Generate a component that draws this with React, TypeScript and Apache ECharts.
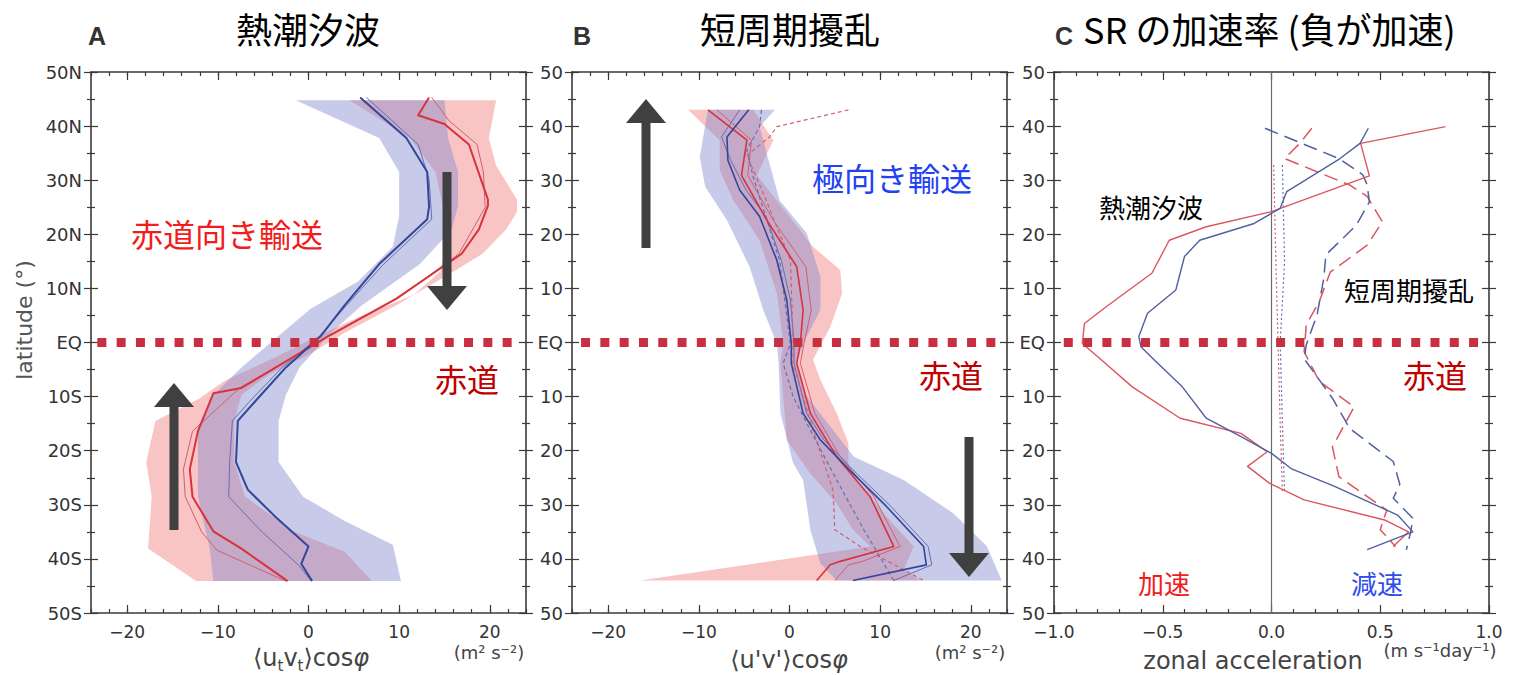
import React, { useEffect, useRef } from 'react';
import * as echarts from 'echarts';

// ---------- Panel A: 熱潮汐波 (thermal tides) ----------
const A_RED_LAT = [45.3, 42.0, 40.4, 36.6, 26.4, 25.3, 20.9, 16.4, 8.1, 1.1, -8.4, -9.4, -16.4, -23.4, -28.5, -34.9, -38.1, -44.1];
const A_RED = [13.3, 12.1, 15.0, 17.7, 19.8, 19.8, 18.8, 16.9, 9.7, 2.1, -7.4, -10.5, -12.2, -13.1, -12.8, -10.5, -7.4, -2.3];
const A_RED_THIN_LAT = [45.3, 41.0, 36.6, 31.5, 25.0, 16.4, 8.1, 1.1, -8.4, -16.4, -23.4, -28.5, -35.0, -38.4, -44.1];
const A_RED_THIN = [13.6, 15.5, 18.6, 19.3, 19.5, 16.6, 9.8, 2.2, -7.6, -12.8, -13.8, -13.6, -11.8, -10.1, -2.5];
const A_BLUE_LAT = [45.3, 37.8, 31.5, 25.1, 22.8, 14.5, 6.9, 1.1, -4.6, -10.9, -14.5, -22.1, -27.2, -32.3, -37.7, -40.9, -44.1];
const A_BLUE = [5.7, 10.8, 13.1, 13.3, 13.1, 7.8, 4.0, 1.3, -2.5, -5.9, -7.8, -8.0, -6.7, -3.6, 0.0, -0.8, 0.4];
const A_BLUE_THIN_LAT = [45.3, 36.6, 30.2, 22.8, 14.5, 6.9, 1.1, -4.6, -10.9, -14.5, -22.1, -28.5, -34.9, -41.3, -44.1];
const A_BLUE_THIN = [6.4, 12.1, 13.3, 13.6, 8.3, 4.2, 1.2, -2.9, -6.5, -8.4, -8.7, -8.8, -5.2, -1.0, 0.3];

// bands (each edge listed from north to south)
const A_RBAND_R_LAT = [44.8, 37.8, 32.7, 26.4, 24.1, 20.9, 16.4, 13.2, 6.9, 1.8, -2.1, -5.9, -9.7, -14.5, -22.1, -28.5, -34.9, -38.7, -44.1];
const A_RBAND_R = [20.7, 19.9, 20.7, 23.0, 23.0, 21.8, 19.2, 16.1, 9.7, 4.0, 0.2, -4.4, -7.4, -8.2, -8.2, -7.0, -1.7, 4.0, 7.0];
const A_RBAND_L_LAT = [44.8, 44.2, 37.8, 31.5, 20.9, 13.2, 8.8, 5.0, 0.5, -2.7, -7.1, -10.3, -14.5, -22.1, -28.5, -38.1, -44.1];
const A_RBAND_L = [4.5, 5.1, 11.2, 14.0, 15.4, 14.6, 11.6, 5.9, 0.2, -3.6, -9.3, -12.0, -16.9, -17.9, -17.3, -17.7, -12.4];
const A_BBAND_L_LAT = [44.8, 37.8, 31.5, 25.1, 23.4, 17.7, 11.3, 6.2, 1.8, -4.6, -9.7, -15.8, -28.5, -38.1, -44.1];
const A_BBAND_L = [-1.4, 7.8, 10.0, 10.0, 10.0, 9.3, 5.5, 0.2, -2.9, -7.4, -10.5, -12.2, -12.2, -10.9, -10.5];
const A_BBAND_R_LAT = [44.8, 37.8, 31.5, 25.3, 20.9, 14.5, 6.9, 1.8, -4.6, -9.7, -14.5, -22.1, -28.5, -33.0, -37.4, -44.1];
const A_BBAND_R = [15.0, 15.4, 16.5, 16.5, 15.8, 12.3, 5.9, 2.5, -1.0, -2.5, -3.3, -3.3, -0.6, 4.0, 9.3, 10.2];

// ---------- Panel B: 短周期擾乱 (transient eddies) ----------
const B_BLUE_LAT = [43, 38, 33.7, 28.2, 23.3, 15.2, 7.8, -0.2, -3.85, -13.1, -18, -24.2, -30.3, -37.7, -41.1, -44];
const B_BLUE = [-4.5, -6.9, -6.8, -5.5, -3.3, -1.4, -0.3, 0.2, 0.2, 1.5, 3.4, 7.0, 10.7, 14.8, 15.1, 7.0];
const B_BLUE_THIN = [-5.5, -7.5, -6.5, -4.8, -2.6, -0.9, 0.1, 0.5, 0.5, 1.9, 3.8, 7.4, 11.2, 15.3, 15.7, 11.5];
const B_RED_LAT = [43, 37.4, 30.9, 22.6, 14, 6, -0.2, -3.85, -13.1, -21.1, -28.5, -37.7, -40.5, -41.1, -44];
const B_RED = [-9.0, -4.7, -5.3, -2.5, 0.8, 1.5, 1.2, 0.8, 2.3, 5.2, 8.9, 11.5, 5.5, 4.5, 3.0];
const B_RED_THIN = [-8.0, -4.2, -4.6, -1.8, 1.8, 2.4, 1.6, 1.2, 2.8, 5.6, 9.3, 12.2, 8.0, 6.5, 5.0];
const B_RED_DASH_LAT = [43, 39.9, 38, 34.6, 27.6, 15.2, -0.2, -3.85, -16.2, -27.3, -34.6, -37.7, -44];
const B_RED_DASH = [6.5, -1.4, -2.2, -4.7, -2.9, 0.1, 0.4, 0.4, 2.6, 4.8, 5.0, 7.8, 14.8];
const B_BLUE_DASH_LAT = [43, 39.9, 35.6, 30.6, 15.2, -0.2, -3.85, -10, -16.2, -25.4, -34.6, -37.7, -44];
const B_BLUE_DASH = [-3.1, -3.3, -4.7, -4.0, -1.1, 0.1, -0.7, 0.4, 2.3, 5.2, 8.2, 9.3, 11.5];

const B_RBAND_L_LAT = [43, 37.4, 31.9, 26.3, 18.9, 9.1, -0.2, -3.85, -18, -24.2, -29.7, -34.6, -37.7, -44];
const B_RBAND_L = [-11.2, -7.7, -7.7, -6.2, -3.3, -1.4, -0.7, -1.0, -0.3, 2.3, 5.2, 7.0, 8.9, -16.5];
const B_RBAND_R_LAT = [43, 37.4, 30.9, 23.9, 17.7, 13.4, 9.1, 2.9, -3.2, -6.9, -13.1, -18.6, -23.6, -28.5, -32.2, -37.7, -42, -44];
const B_RBAND_R = [-4.0, -1.8, -3.6, -0.3, 2.6, 5.6, 5.8, 4.5, 2.6, 3.4, 5.2, 6.5, 6.5, 8.9, 10.7, 13.7, 12.6, 14.4];
const B_BBAND_L_LAT = [43, 34.3, 28.8, 22.6, 14.0, 6.0, -0.2, -3.85, -13.1, -22.3, -25.4, -34.6, -40.8, -44];
const B_BBAND_L = [-9.0, -9.9, -9.3, -6.9, -4.4, -2.9, -1.4, -1.2, -1.0, 0.4, 1.5, 2.3, 3.4, 5.2];
const B_BBAND_R_LAT = [43, 39.9, 34.9, 26.3, 20.2, 12.2, 6.0, -0.2, -3.85, -10.0, -21.1, -25.4, -31.6, -37.7, -44];
const B_BBAND_R = [-1.6, -3.3, -2.5, -1.1, 1.9, 3.4, 3.4, 1.5, 0.8, 1.9, 7.1, 12.6, 18.1, 21.8, 23.4];

// ---------- Panel C: zonal acceleration ----------
const C_RED_LAT = [39.9, 36.8, 30.8, 24.2, 21.4, 18.9, 12.8, 6.6, 3.5, -0.2, -2.6, -8.2, -14.0, -16.8, -20.2, -22.9, -26.0, -29.1, -32.8, -35.0, -37.7];
const C_RED = [0.80, 0.41, 0.45, 0.0, -0.30, -0.47, -0.55, -0.76, -0.86, -0.87, -0.80, -0.64, -0.42, -0.14, -0.02, -0.11, -0.01, 0.15, 0.52, 0.63, 0.56];
const C_BLUE_LAT = [39.6, 36.8, 34.0, 27.9, 24.8, 22.0, 18.9, 15.9, 9.7, 5.4, 1.1, -0.8, -3.2, -8.2, -14.0, -17.4, -20.5, -23.3, -26.6, -31.9, -35.0, -38.3];
const C_BLUE = [0.445, 0.407, 0.315, 0.07, 0.04, -0.08, -0.33, -0.40, -0.44, -0.57, -0.61, -0.60, -0.54, -0.41, -0.30, -0.14, 0.0, 0.09, 0.29, 0.58, 0.65, 0.44];
const C_RED_DASH_LAT = [39.6, 36.8, 34.0, 29.1, 27.0, 22.3, 18.0, 13.0, 7.6, 3.3, -1.7, -7.2, -11.9, -19.3, -24.8, -31.0, -34.6, -37.7];
const C_RED_DASH = [0.185, 0.13, 0.06, 0.36, 0.44, 0.51, 0.44, 0.27, 0.22, 0.16, 0.15, 0.22, 0.38, 0.28, 0.31, 0.53, 0.50, 0.57];
const C_BLUE_DASH_LAT = [39.6, 34.0, 31.0, 29.1, 26.0, 21.7, 16.2, 11.8, 5.2, -0.4, -3.0, -10.3, -15.9, -22.0, -26.2, -28.8, -32.5, -35.0, -38.3];
const C_BLUE_DASH = [-0.03, 0.31, 0.42, 0.44, 0.45, 0.39, 0.25, 0.24, 0.21, 0.16, 0.15, 0.28, 0.36, 0.56, 0.59, 0.56, 0.65, 0.64, 0.62];
const C_DOT_LAT = [32.8, 15, 0, -15, -27.5];
const C_RED_DOT = [0.01, 0.02, 0.03, 0.04, 0.05];
const C_BLUE_DOT = [0.05, 0.06, 0.04, 0.05, 0.06];
const C_ZERO_X = [0, 0];
const C_ZERO_LAT = [50, -50];

// equator dotted lines
const EQ_LAT = [0, 0];
const EQ_X_A = [-23.3, 23.2];
const EQ_X_B = [-23.0, 23.4];
const EQ_X_C = [-0.955, 0.985];

// axis ticks
const LAT_TICKS = [-50, -40, -30, -20, -10, 0, 10, 20, 30, 40, 50];
const X_TICKS_AB = [-20, -10, 0, 10, 20];

const AX = '#3a3a3a';
const RED = '#d8333d';
const RED_THIN = '#d0606c';
const BLUE = '#34459a';
const BLUE_THIN = '#6470b0';
const RED_BAND = 'rgba(240,100,100,0.38)';
const BLUE_BAND = 'rgba(128,134,206,0.44)';
const EQ_COLOR = '#c8303f';
const LABEL_FONT = 'DejaVu Sans';

const GRIDS = [
  { left: 91, top: 72, width: 435, height: 541 },
  { left: 572, top: 72, width: 435, height: 541 },
  { left: 1054, top: 72, width: 435, height: 541 },
];

const minus = (v: number, s: string) => (v < 0 ? '\u2212' + s.replace('-', '') : s);

function buildOption() {
  const xAxis: any[] = [];
  const yAxis: any[] = [];
  const XI: number[] = [];
  const YI: number[] = [];
  const axisLine = { show: true, onZero: false, lineStyle: { color: AX, width: 1.6 } };
  const noLine = { show: false, onZero: false };
  const tick = { color: AX, width: 1.2 };
  const lbl = { color: '#333', fontFamily: LABEL_FONT, fontSize: 17 };

  for (let g = 0; g < 3; g++) {
    const isC = g === 2;
    const min = isC ? -1 : -24;
    const max = isC ? 1 : 24;
    for (const pos of ['bottom', 'top']) {
      const withLabel = pos === 'bottom';
      if (withLabel) XI.push(xAxis.length);
      if (isC) {
        xAxis.push({
          type: 'value', gridIndex: g, position: pos, min, max, interval: 0.5,
          axisLine, splitLine: { show: false },
          axisTick: { show: true, inside: true, length: 8, lineStyle: tick },
          minorTick: { show: true, splitNumber: 5, length: 4, lineStyle: tick },
          axisLabel: { show: withLabel, margin: 10, ...lbl, formatter: (v: number) => minus(v, v.toFixed(1)) },
        });
      } else {
        xAxis.push({
          type: 'value', gridIndex: g, position: pos, min, max,
          axisLine, splitLine: { show: false },
          axisTick: { show: true, inside: true, length: 8, lineStyle: tick, customValues: X_TICKS_AB },
          axisLabel: { show: withLabel, margin: 10, ...lbl, customValues: X_TICKS_AB, formatter: (v: number) => minus(v, String(v)) },
        });
        xAxis.push({
          type: 'value', gridIndex: g, position: pos, min, max, interval: 2,
          axisLine: noLine, splitLine: { show: false },
          axisTick: { show: true, inside: true, length: 4, lineStyle: tick },
          axisLabel: { show: false },
        });
      }
    }
    const fmt = g === 0
      ? (v: number) => (v === 0 ? 'EQ' : v > 0 ? v + 'N' : -v + 'S')
      : (v: number) => (v === 0 ? 'EQ' : String(Math.abs(v)));
    for (const pos of ['left', 'right']) {
      for (const inside of [true, false]) {
        const withLabel = pos === 'left' && inside;
        if (withLabel) YI.push(yAxis.length);
        yAxis.push({
          type: 'value', gridIndex: g, position: pos, min: LAT_TICKS[0], max: LAT_TICKS[LAT_TICKS.length - 1], interval: 10,
          axisLine: inside ? axisLine : noLine, splitLine: { show: false },
          axisTick: { show: true, inside, length: 7, lineStyle: tick },
          minorTick: { show: true, splitNumber: 2, length: 4, lineStyle: tick },
          axisLabel: { show: withLabel, margin: 9, ...lbl, fontSize: 18, formatter: fmt },
        });
      }
    }
  }

  const pairs = (xs: number[], ys: number[]) => xs.map((x, i) => [x, ys[i]]);
  const line = (g: number, xs: number[], lats: number[], color: string, width: number, type: any = 'solid', z = 3) => ({
    type: 'line', xAxisIndex: XI[g], yAxisIndex: YI[g], data: pairs(xs, lats),
    symbol: 'none', showSymbol: false, silent: true, z,
    lineStyle: { color, width, type, cap: 'butt', join: 'round' },
  });
  const band = (g: number, latR: number[], valR: number[], latL: number[], valL: number[], fill: string) => ({
    type: 'custom', xAxisIndex: XI[g], yAxisIndex: YI[g], data: [[0, 0]], silent: true, z: 1,
    renderItem: (_p: any, api: any) => {
      const pts: number[][] = [];
      for (let i = 0; i < latR.length; i++) pts.push(api.coord([valR[i], latR[i]]));
      for (let i = latL.length - 1; i >= 0; i--) pts.push(api.coord([valL[i], latL[i]]));
      return { type: 'polygon', shape: { points: pts }, style: { fill } };
    },
  });
  const eq = (g: number, xs: number[]) => line(g, xs, EQ_LAT, EQ_COLOR, 9, [9, 10.3], 10);

  const series: any[] = [
    band(0, A_RBAND_R_LAT, A_RBAND_R, A_RBAND_L_LAT, A_RBAND_L, RED_BAND),
    band(0, A_BBAND_R_LAT, A_BBAND_R, A_BBAND_L_LAT, A_BBAND_L, BLUE_BAND),
    line(0, A_RED_THIN, A_RED_THIN_LAT, RED_THIN, 1),
    line(0, A_BLUE_THIN, A_BLUE_THIN_LAT, BLUE_THIN, 1),
    line(0, A_RED, A_RED_LAT, RED, 2),
    line(0, A_BLUE, A_BLUE_LAT, BLUE, 2),
    eq(0, EQ_X_A),

    band(1, B_RBAND_R_LAT, B_RBAND_R, B_RBAND_L_LAT, B_RBAND_L, RED_BAND),
    band(1, B_BBAND_R_LAT, B_BBAND_R, B_BBAND_L_LAT, B_BBAND_L, BLUE_BAND),
    line(1, B_RED_THIN, B_RED_LAT, RED_THIN, 1),
    line(1, B_BLUE_THIN, B_BLUE_LAT, BLUE_THIN, 1),
    line(1, B_RED_DASH, B_RED_DASH_LAT, RED_THIN, 1.2, [4, 3]),
    line(1, B_BLUE_DASH, B_BLUE_DASH_LAT, BLUE_THIN, 1.2, [4, 3]),
    line(1, B_RED, B_RED_LAT, RED, 1.6),
    line(1, B_BLUE, B_BLUE_LAT, BLUE, 1.6),
    eq(1, EQ_X_B),

    line(2, C_ZERO_X, C_ZERO_LAT, '#6a6a6a', 1.2, 'solid', 2),
    line(2, C_RED_DOT, C_DOT_LAT, RED_THIN, 1.2, [2, 2.5]),
    line(2, C_BLUE_DOT, C_DOT_LAT, BLUE_THIN, 1.2, [2, 2.5]),
    line(2, C_RED_DASH, C_RED_DASH_LAT, '#dc5560', 1.5, [14, 7]),
    line(2, C_BLUE_DASH, C_BLUE_DASH_LAT, '#52609e', 1.5, [14, 7]),
    line(2, C_RED, C_RED_LAT, '#dc5560', 1.4),
    line(2, C_BLUE, C_BLUE_LAT, '#52609e', 1.4),
    eq(2, EQ_X_C),
  ];

  const CJK = 'Noto Sans CJK JP';
  const txt = (text: string, x: number, y: number, size: number, fill: string, extra: any = {}, rotation = 0) => ({
    type: 'text', x, y, rotation, z: 100, silent: true,
    style: { text, fontSize: size, fill, fontFamily: CJK, align: 'center', verticalAlign: 'middle', ...extra },
  });
  const letter = (t: string, x: number) => txt(t, x, 36, 25, '#333', { fontFamily: 'Liberation Sans', fontWeight: 'bold' });
  const ARROW = '#404040';
  const upArrow = (cx: number, tip: number, base: number) => [
    { type: 'rect', shape: { x: cx - 4.5, y: tip + 22, width: 9, height: base - tip - 22 }, style: { fill: ARROW }, z: 50 },
    { type: 'polygon', shape: { points: [[cx - 20, tip + 24], [cx + 20, tip + 24], [cx, tip]] }, style: { fill: ARROW }, z: 50 },
  ];
  const downArrow = (cx: number, top: number, tip: number) => [
    { type: 'rect', shape: { x: cx - 4.5, y: top, width: 9, height: tip - top - 22 }, style: { fill: ARROW }, z: 50 },
    { type: 'polygon', shape: { points: [[cx - 20, tip - 24], [cx + 20, tip - 24], [cx, tip]] }, style: { fill: ARROW }, z: 50 },
  ];
  const sub = { fontSize: 15, lineHeight: 20, verticalAlign: 'bottom', fill: '#444', fontFamily: LABEL_FONT };
  const main = { fontSize: 24, lineHeight: 30, fill: '#444', fontFamily: LABEL_FONT };
  const phi = { ...main, fontStyle: 'italic' };

  const graphic: any[] = [
    letter('A', 97), txt('熱潮汐波', 308, 28, 36, '#000'),
    letter('B', 582), txt('短周期擾乱', 790, 28, 36, '#000'),
    letter('C', 1064), txt('SR の加速率 (負が加速)', 1083, 28, 36, '#000', { align: 'left' }),

    txt('latitude (°)', 24, 320, 22, '#555', { fontFamily: LABEL_FONT }, Math.PI / 2),

    { type: 'text', x: 311, y: 658, z: 100, style: { text: '{m|⟨u}{s|t}{m|v}{s|t}{m|⟩cos}{p|φ}', rich: { m: main, s: sub, p: phi }, align: 'center', verticalAlign: 'middle' } },
    { type: 'text', x: 789, y: 660, z: 100, style: { text: "{m|⟨u'v'⟩cos}{p|φ}", rich: { m: main, p: phi }, align: 'center', verticalAlign: 'middle' } },
    txt('zonal acceleration', 1253, 661, 24, '#444', { fontFamily: LABEL_FONT }),
    txt('(m² s⁻²)', 489, 652, 18, '#444', { fontFamily: LABEL_FONT }),
    txt('(m² s⁻²)', 970, 652, 18, '#444', { fontFamily: LABEL_FONT }),
    txt('(m s⁻¹day⁻¹)', 1440, 650, 18, '#444', { fontFamily: LABEL_FONT }),

    txt('赤道向き輸送', 227, 233, 32, '#f21c1c'),
    txt('赤道', 467, 378, 32, '#c00000'),
    txt('極向き輸送', 892, 177, 32, '#2242f2'),
    txt('赤道', 951, 374, 32, '#c00000'),
    txt('熱潮汐波', 1151, 206, 26, '#000'),
    txt('短周期擾乱', 1409, 289, 26, '#000'),
    txt('赤道', 1435, 374, 32, '#c00000'),
    txt('加速', 1164, 582, 26, '#f21c1c'),
    txt('減速', 1377, 582, 26, '#2f4cee'),

    ...downArrow(447, 172, 310),
    ...upArrow(174, 383, 530),
    ...upArrow(646, 99, 248),
    ...downArrow(969, 437, 577),
  ];

  return { animation: false, backgroundColor: '#fff', grid: GRIDS, xAxis, yAxis, series, graphic };
}

export default function App() {
  const ref = useRef<HTMLDivElement>(null);
  useEffect(() => {
    const chart = echarts.init(ref.current!, null, { renderer: 'svg' });
    chart.setOption(buildOption() as any);
    return () => chart.dispose();
  }, []);
  return <div ref={ref} style={{ position: 'fixed', left: 0, top: 0, width: 1519, height: 675, background: '#fff' }} />;
}
